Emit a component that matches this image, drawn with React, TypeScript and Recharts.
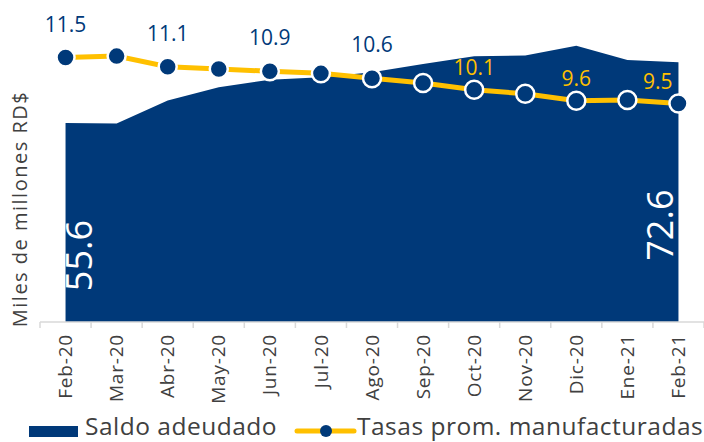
import { ComposedChart, Area, Line, XAxis, YAxis, LabelList, Legend } from "recharts";

const meses = [
  "Feb-20", "Mar-20", "Abr-20", "May-20", "Jun-20", "Jul-20", "Ago-20",
  "Sep-20", "Oct-20", "Nov-20", "Dic-20", "Ene-21", "Feb-21",
];
const saldoAdeudado = [55.6, 55.5, 61.9, 65.6, 67.7, 68.4, 69.8, 72.1, 74.3, 74.5, 77.2, 73.2, 72.6];
const tasasProm = [11.5, 11.56, 11.1, 11.0, 10.9, 10.81, 10.6, 10.39, 10.1, 9.92, 9.62, 9.65, 9.5];
const mesesConEtiqueta = [0, 2, 4, 6, 8, 10, 12];

const AZUL = "#003979";
const AMARILLO = "#FFC000";
const GRIS = "#404040";
const FUENTE = "'Open Sans', sans-serif";

const ANCHO = 704;
const ALTO = 442;
const IZQ = 40;
const BASE_Y = 322; // fondo del área de trazado
const BANDA = (ANCHO - IZQ) / meses.length;

const datos = meses.map((mes, i) => ({ mes, saldo: saldoAdeudado[i], tasa: tasasProm[i] }));

function TickMes(props: any) {
  const { x, payload, index } = props;
  const ty = BASE_Y + 12;
  return (
    <g>
      <line x1={x - BANDA / 2} x2={x - BANDA / 2} y1={BASE_Y} y2={BASE_Y + 6} stroke="#d9d9d9" strokeWidth={1.5} />
      {index === meses.length - 1 && (
        <line x1={x + BANDA / 2} x2={x + BANDA / 2} y1={BASE_Y} y2={BASE_Y + 6} stroke="#d9d9d9" strokeWidth={1.5} />
      )}
      <text
        x={x}
        y={ty}
        dy="0.35em"
        transform={`rotate(-90 ${x} ${ty})`}
        textAnchor="end"
        fill={GRIS}
        fontSize={19}
        letterSpacing={0.8}
        fontFamily={FUENTE}
      >
        {payload.value}
      </text>
    </g>
  );
}

function EtiquetaSaldo(props: any) {
  const { x, y, value, index } = props;
  if (index !== 0 && index !== meses.length - 1) return null;
  const cx = index === 0 ? x + 14 : x - 18;
  const cy = (y + BASE_Y) / 2 + 33;
  return (
    <text
      x={cx}
      y={cy}
      dy="0.35em"
      transform={`rotate(-90 ${cx} ${cy})`}
      textAnchor="middle"
      fill="#fff"
      fontSize={36}
      fontFamily={FUENTE}
    >
      {Number(value).toFixed(1)}
    </text>
  );
}

function EtiquetaTasa(props: any) {
  const { x, y, value, index } = props;
  if (!mesesConEtiqueta.includes(index)) return null;
  const dentro = index > 6;
  const ultimo = index === meses.length - 1;
  return (
    <text
      x={ultimo ? x - 6 : x}
      y={y - (dentro ? 15 : 26)}
      textAnchor={ultimo ? "end" : "middle"}
      fill={dentro ? AMARILLO : AZUL}
      fontSize={21}
      fontFamily={FUENTE}
    >
      {Number(value).toFixed(1)}
    </text>
  );
}

function Leyenda() {
  return (
    <svg width={ANCHO} height={30} style={{ display: "block", overflow: "visible" }}>
      <rect x={29} y={14} width={49} height={11} fill={AZUL} />
      <text x={85} y={23} fontSize={24.5} letterSpacing={0.5} fill={GRIS} fontFamily={FUENTE}>
        Saldo adeudado
      </text>
      <line x1={297} x2={354} y1={19} y2={19} stroke={AMARILLO} strokeWidth={5} strokeLinecap="round" />
      <circle cx={326} cy={19} r={6} fill={AZUL} />
      <text x={357} y={23} fontSize={24.5} letterSpacing={0.5} fill={GRIS} fontFamily={FUENTE}>
        Tasas prom. manufacturadas
      </text>
    </svg>
  );
}

export default function App() {
  return (
    <div style={{ position: "absolute", left: 0, top: 0, background: "#fff" }}>
      <ComposedChart width={ANCHO} height={ALTO} data={datos} margin={{ top: 0, right: 0, left: 0, bottom: 0 }}>
        <XAxis
          dataKey="mes"
          interval={0}
          height={90}
          padding={{ left: BANDA / 2, right: BANDA / 2 }}
          tickLine={false}
          axisLine={{ stroke: "#d9d9d9", strokeWidth: 1.5 }}
          tick={<TickMes />}
        />
        <YAxis
          yAxisId="izq"
          domain={[0, 90]}
          width={IZQ}
          tick={false}
          tickLine={false}
          axisLine={false}
          label={{
            content: () => (
              <text
                x={20}
                y={209}
                transform="rotate(-90 20 209)"
                textAnchor="middle"
                dy="0.35em"
                fill={GRIS}
                fontSize={20}
                letterSpacing={1.5}
                fontFamily={FUENTE}
              >
                Miles de millones RD$
              </text>
            ),
          }}
        />
        <YAxis yAxisId="der" orientation="right" domain={[0, 14]} hide />
        <Area
          yAxisId="izq"
          type="linear"
          dataKey="saldo"
          name="Saldo adeudado"
          stroke="none"
          fill={AZUL}
          fillOpacity={1}
          isAnimationActive={false}
        >
          <LabelList dataKey="saldo" content={<EtiquetaSaldo />} />
        </Area>
        <Line
          yAxisId="der"
          type="linear"
          dataKey="tasa"
          name="Tasas prom. manufacturadas"
          stroke={AMARILLO}
          strokeWidth={5}
          dot={{ r: 9, fill: AZUL, stroke: "#fff", strokeWidth: 2.5 }}
          activeDot={false}
          isAnimationActive={false}
        >
          <LabelList dataKey="tasa" content={<EtiquetaTasa />} />
        </Line>
        <Legend verticalAlign="bottom" height={30} wrapperStyle={{ left: 0, width: ANCHO }} content={() => <Leyenda />} />
      </ComposedChart>
    </div>
  );
}
